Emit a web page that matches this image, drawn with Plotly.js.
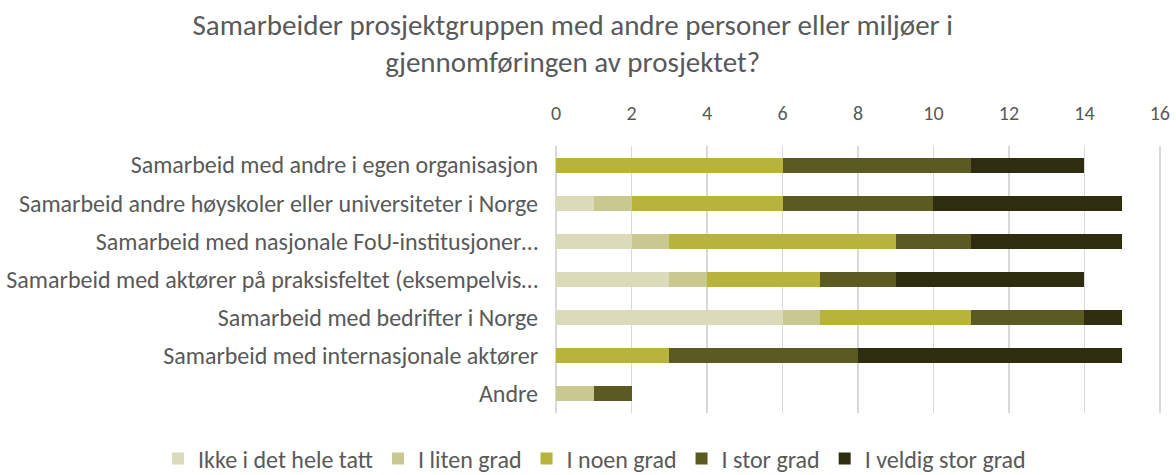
<!DOCTYPE html>
<html>
<head>
<meta charset="utf-8">
<script src="https://cdn.plot.ly/plotly-3.0.1.min.js"></script>
<style>html,body{margin:0;padding:0;background:#fff;}#chart{width:1176px;height:475px;}</style>
</head>
<body>
<div id="chart"></div>
<script>
const categories = [
  "Samarbeid med andre i egen organisasjon",
  "Samarbeid andre høyskoler eller universiteter i Norge",
  "Samarbeid med nasjonale FoU-institusjoner…",
  "Samarbeid med aktører på praksisfeltet (eksempelvis…",
  "Samarbeid med bedrifter i Norge",
  "Samarbeid med internasjonale aktører",
  "Andre"
];
const seriesNames = ["Ikke i det hele tatt", "I liten grad", "I noen grad", "I stor grad", "I veldig stor grad"];
const ikkeIDetHeleTatt = [0, 1, 2, 3, 6, 0, 0];
const iLitenGrad       = [0, 1, 1, 1, 1, 0, 1];
const iNoenGrad        = [6, 4, 6, 3, 4, 3, 0];
const iStorGrad        = [5, 4, 2, 2, 3, 5, 1];
const iVeldigStorGrad  = [3, 5, 4, 5, 1, 7, 0];
const xTicks = [0, 2, 4, 6, 8, 10, 12, 14, 16];

const seriesValues = [ikkeIDetHeleTatt, iLitenGrad, iNoenGrad, iStorGrad, iVeldigStorGrad];
const colors = ["#dcdbb9", "#c9c98f", "#b7b33c", "#5b5a20", "#2f2d10"];
const fontFamily = "Carlito, Lato, 'Open Sans', sans-serif";
const textColor = "#595959";

const traces = seriesValues.map((vals, i) => ({
  type: "bar",
  orientation: "h",
  name: seriesNames[i],
  y: categories,
  x: vals,
  marker: { color: colors[i], line: { width: 0 } },
  hoverinfo: "x+y+name"
}));

const layout = {
  width: 1176,
  height: 475,
  barmode: "stack",
  bargap: 0.61,
  paper_bgcolor: "#ffffff",
  plot_bgcolor: "#ffffff",
  font: { family: fontFamily, color: textColor, size: 20 },
  margin: { l: 555, r: 15, t: 146, b: 62, pad: 0, autoexpand: false },
  title: {
    text: "Samarbeider prosjektgruppen med andre personer eller miljøer i<br>gjennomføringen av prosjektet?",
    font: { family: fontFamily, size: 29, color: textColor },
    x: 0.487, xref: "container", xanchor: "center",
    y: 0.927, yref: "container", yanchor: "top"
  },
  xaxis: {
    side: "top",
    range: [-0.03, 16.03],
    tickvals: xTicks,
    ticktext: xTicks.map(String),
    showgrid: true,
    gridcolor: "#d9d9d9",
    gridwidth: 1.5,
    zeroline: false,
    showline: false,
    ticks: "",
    ticklabelstandoff: 21,
    tickfont: { family: fontFamily, size: 20, color: textColor },
    fixedrange: true
  },
  yaxis: {
    autorange: "reversed",
    showgrid: false,
    zeroline: false,
    showline: false,
    ticks: "",
    ticklabelstandoff: 16,
    tickfont: { family: fontFamily, size: 24, color: textColor },
    fixedrange: true
  },
  showlegend: true,
  legend: {
    orientation: "h",
    xref: "paper", yref: "paper",
    x: -0.655, xanchor: "left",
    y: -0.172, yanchor: "middle",
    font: { family: fontFamily, size: 24, color: textColor },
    traceorder: "normal",
    itemclick: false,
    itemdoubleclick: false
  }
};

Plotly.newPlot("chart", traces, layout, { displayModeBar: false, staticPlot: true });
</script>
</body>
</html>
